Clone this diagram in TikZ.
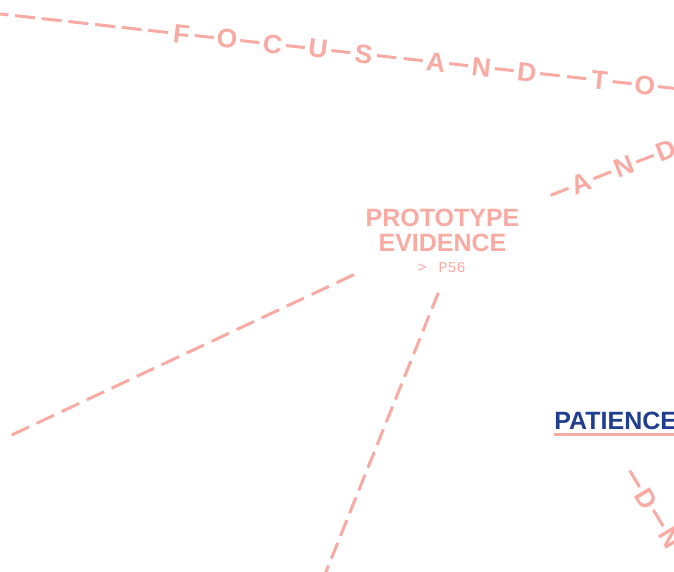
\documentclass[tikz,border=0pt]{standalone}
\usepackage{fontspec}
\setmainfont{Liberation Sans}
\newfontfamily\pagefont{Liberation Mono}
\definecolor{pk}{RGB}{248,170,163}
\definecolor{nv}{RGB}{32,62,142}
\tikzset{
  pl/.style={draw=pk, line width=3pt},
  dA/.style={dash pattern=on 19.4pt off 7.6pt},
  ltr/.style={text=pk, font=\bfseries\fontsize{26.5}{26.5}\selectfont, inner sep=0pt, minimum width=26.4pt, anchor=center},
  ttl/.style={text=pk, font=\bfseries\fontsize{25}{25.3}\selectfont, align=center, inner sep=0pt},
  pgref/.style={text=pk, font=\pagefont\fontsize{15}{15}\selectfont, inner sep=0pt},
  patst/.style={text=nv, font=\bfseries\fontsize{25}{25}\selectfont, inner sep=0pt}
}
\begin{document}
\begin{tikzpicture}[x=1pt,y=1pt]
\useasboundingbox (0,0) rectangle (674,-571);
\clip (0,0) rectangle (674,-571);

% top line: F O C U S  A N D  T O
\begin{scope}[shift={(181.5,-34)}, rotate=-6.3]
  \node[ltr, rotate=-6.3] (t1) at (0,0) {F};
  \node[ltr, rotate=-6.3] (t2) at (45.8,0) {O};
  \node[ltr, rotate=-6.3] (t3) at (91.6,0) {C};
  \node[ltr, rotate=-6.3] (t4) at (137.4,0) {U};
  \node[ltr, rotate=-6.3] (t5) at (183.2,0) {S};
  \node[ltr, rotate=-6.3] (t6) at (256,0) {A};
  \node[ltr, rotate=-6.3] (t7) at (301.8,0) {N};
  \node[ltr, rotate=-6.3] (t8) at (347.6,0) {D};
  \node[ltr, rotate=-6.3] (t9) at (420.4,0) {T};
  \node[ltr, rotate=-6.3] (t10) at (466.2,0) {O};
  \coordinate (tstart) at (-230,0);
  \coordinate (tend) at (530,0);
\end{scope}
\draw[pl, dash pattern=on 20pt off 6.8pt] (t1.west) -- (tstart);
\draw[pl] (t1.east) -- (t2.west);
\draw[pl] (t2.east) -- (t3.west);
\draw[pl] (t3.east) -- (t4.west);
\draw[pl] (t4.east) -- (t5.west);
\draw[pl, dA] (t5.east) -- (t6.west);
\draw[pl] (t6.east) -- (t7.west);
\draw[pl] (t7.east) -- (t8.west);
\draw[pl, dA] (t8.east) -- (t9.west);
\draw[pl] (t9.east) -- (t10.west);
\draw[pl, dA] (t10.east) -- (tend);

% A N D line
\begin{scope}[shift={(581,-183.5)}, rotate=21.2]
  \node[ltr, rotate=21.2] (a1) at (0,0) {A};
  \node[ltr, rotate=21.2] (a2) at (45.8,0) {N};
  \node[ltr, rotate=21.2] (a3) at (91.6,0) {D};
  \coordinate (a0) at (-32.6,0);
  \coordinate (a4) at (124.2,0);
\end{scope}
\draw[pl] (a0) -- (a1.west);
\draw[pl] (a1.east) -- (a2.west);
\draw[pl] (a2.east) -- (a3.west);
\draw[pl] (a3.east) -- (a4);

% D N line (lower right)
\begin{scope}[shift={(646.5,-498.5)}, rotate=-59]
  \node[ltr, rotate=-59] (r1) at (0,0) {D};
  \node[ltr, rotate=-59] (r2) at (45.8,0) {N};
  \coordinate (r0) at (-32.6,0);
  \coordinate (r3) at (78.4,0);
\end{scope}
\draw[pl] (r0) -- (r1.west);
\draw[pl] (r1.east) -- (r2.west);
\draw[pl] (r2.east) -- (r3);

% central node
\node[ttl] (proto) at (442.5,-230.3) {PROTOTYPE\\EVIDENCE};
\node[pgref, anchor=base] (pg) at (441.5,-272) {>\hspace{3pt} P56};

% connectors from the central node
\coordinate (e1a) at (354,-274.6);
\coordinate (e1b) at (11.7,-435);
\coordinate (e2a) at (438.3,-292.8);
\coordinate (e2b) at (318.8,-589.7);
\draw[pl, dash pattern=on 19.2pt off 8.4pt] (e1a) -- (e1b);
\draw[pl, dash pattern=on 17pt off 7.5pt] (e2a) -- (e2b);

% PATIENCE
\node[patst, anchor=base west] (pat) at (554.2,-429.3) {PATIENCE};
\draw[draw=pk, line width=2.6pt] ([yshift=-5.2pt]pat.base west) -- ++(130,0);
\end{tikzpicture}
\end{document}
